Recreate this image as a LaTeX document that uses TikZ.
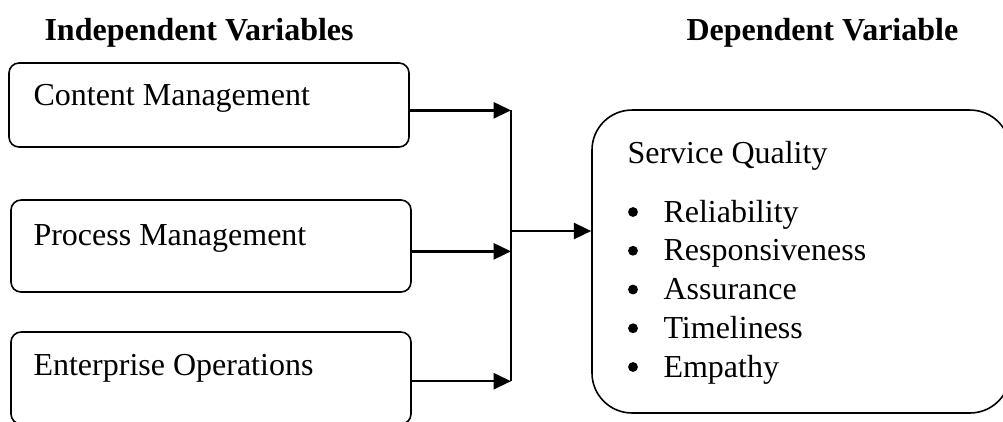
\documentclass[tikz,border=0pt]{standalone}
\usepackage{fontspec}
\setmainfont{Liberation Serif}
\usetikzlibrary{arrows.meta}

\tikzset{
  varbox/.style={draw, line width=0.6pt, rounded corners=3.75pt, minimum width=150pt, inner sep=0pt},
  qualbox/.style={draw, line width=0.6pt, rounded corners=15pt, minimum width=156.75pt, minimum height=113.6pt, inner sep=0pt},
  lbl/.style={anchor=base west, inner sep=0pt},
  dot/.style={circle, fill, inner sep=0pt, minimum size=3.7pt},
  link/.style={line width=0.9pt, -{Triangle[length=6.5pt,width=6pt]}},
}

\begin{document}
\begin{tikzpicture}[x=0.375pt, y=-0.375pt, every node/.style={font=\fontsize{12}{14.5}\selectfont}]
\useasboundingbox (0,0) rectangle (1003,421);

% headings
\node[lbl] (indep) at (44,40) {\bfseries Independent Variables};
\node[lbl] (dep) at (686,40) {\bfseries Dependent Variable};

% independent variables
\node[varbox, minimum height=31.5pt] (content) at (209,105) {};
\node[varbox, minimum height=34.5pt] (process) at (211,246) {};
\node[varbox, minimum height=34.5pt] (enterprise) at (211,378) {};
\node[lbl] (contenttext) at (33,105) {Content Management};
\node[lbl] (processtext) at (33,245) {Process Management};
\node[lbl] (enterprisetext) at (33,375) {Enterprise Operations};

% dependent variable
\node[qualbox] (quality) at (801,261.5) {};
\node[lbl] (qualitytext) at (627,163) {Service Quality};
\foreach \dim [count=\i] in {Reliability, Responsiveness, Assurance, Timeliness, Empathy}{
  \node[dot] (dot\i) at (633,{212+38.75*(\i-1)}) {};
  \node[lbl] (dim\i) at (663,{222+38.75*(\i-1)}) {\dim};
}

% arrows
\coordinate (jn) at (511,231);
\draw[line width=0.9pt] ([yshift=-2pt]content.east -| jn) -- ([yshift=-1.2pt]enterprise.east -| jn);
\draw[link] ([yshift=-2pt]content.east) -- ([yshift=-2pt]content.east -| jn);
\draw[link] ([yshift=-2pt]process.east) -- ([yshift=-2pt]process.east -| jn);
\draw[link] ([yshift=-1.2pt]enterprise.east) -- ([yshift=-1.2pt]enterprise.east -| jn);
\draw[link] (jn) -- (jn -| quality.west);
\end{tikzpicture}
\end{document}
